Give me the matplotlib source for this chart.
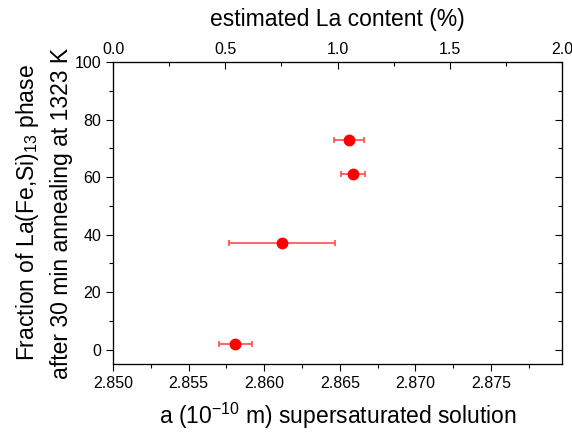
import matplotlib
matplotlib.use("Agg")
import matplotlib.pyplot as plt
from matplotlib.ticker import MultipleLocator

plt.rcParams['font.family'] = ['Liberation Sans', 'DejaVu Sans']
plt.rcParams['mathtext.fontset'] = 'custom'
plt.rcParams['mathtext.rm'] = 'Liberation Sans'
plt.rcParams['mathtext.it'] = 'Liberation Sans'

lattice_a = [2.8656, 2.8659, 2.8612, 2.8581]
lattice_err = [0.0010, 0.0008, 0.0035, 0.0011]
fraction = [73, 61, 37, 2]

fig = plt.figure(figsize=(5.72, 4.40), dpi=100)
ax = fig.add_axes([0.1976, 0.1727, 0.7849, 0.6863])

ax.errorbar(lattice_a, fraction, xerr=lattice_err, fmt='o', color='red',
            markersize=7.5, ecolor=(1, 0.3, 0.3), elinewidth=1.2, capsize=2.3,
            capthick=1.2, zorder=3)

ax.set_xlim(2.850, 2.8797)
ax.set_ylim(-5, 100)
ax.xaxis.set_major_locator(MultipleLocator(0.005))
ax.xaxis.set_minor_locator(MultipleLocator(0.0025))
ax.yaxis.set_major_locator(MultipleLocator(20))
ax.yaxis.set_minor_locator(MultipleLocator(10))
ax.xaxis.set_major_formatter(plt.FormatStrFormatter('%.3f'))
ax.tick_params(axis='both', which='major', direction='out', length=5, width=0.8, labelsize=11.5)
ax.tick_params(axis='both', which='minor', direction='out', length=3, width=0.8)
ax.set_xlabel('a (10$^{-10}$ m) supersaturated solution', fontsize=16.5, labelpad=7)
ax.set_ylabel('Fraction of La(Fe,Si)$_{13}$ phase\nafter 30 min annealing at 1323 K',
              fontsize=16.5, labelpad=1, linespacing=1.5)

axr = ax.twinx()
axr.set_ylim(ax.get_ylim())
axr.yaxis.set_major_locator(MultipleLocator(20))
axr.yaxis.set_minor_locator(MultipleLocator(10))
axr.tick_params(axis='y', which='major', direction='in', length=5, width=0.8, labelright=False)
axr.tick_params(axis='y', which='minor', direction='in', length=3, width=0.8)

axt = ax.twiny()
axt.set_xlim(0.0, 2.0)
axt.xaxis.set_major_locator(MultipleLocator(0.5))
axt.xaxis.set_minor_locator(MultipleLocator(0.25))
axt.xaxis.set_major_formatter(plt.FormatStrFormatter('%.1f'))
axt.tick_params(axis='x', which='major', direction='in', length=5, width=0.8, labelsize=11.5)
axt.tick_params(axis='x', which='minor', direction='in', length=3, width=0.8)
axt.set_xlabel('estimated La content (%)', fontsize=16.5, labelpad=12)

for a in (ax, axr, axt):
    for s in a.spines.values():
        s.set_linewidth(0.8)

fig.savefig('out.png', dpi=100)
